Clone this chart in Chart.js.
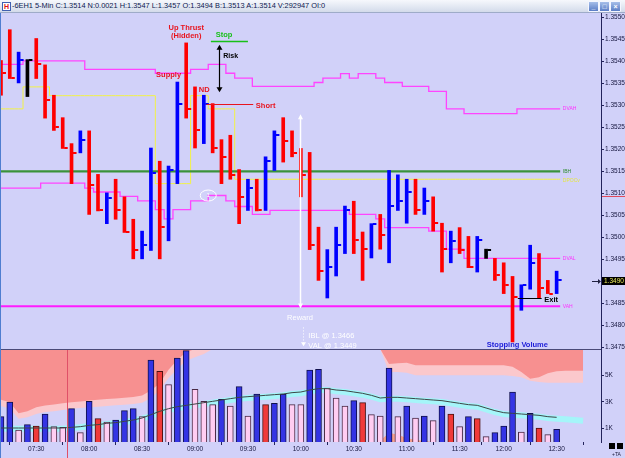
<!DOCTYPE html>
<html>
<head>
<meta charset="utf-8">
<title>6EH1 5-Min</title>
<script src="https://cdn.jsdelivr.net/npm/chart.js@4.4.1/dist/chart.umd.min.js"></script>
<style>
  html, body { margin: 0; padding: 0; background: #d1d1f9; overflow: hidden; }
  #win { position: relative; width: 625px; height: 458px; background: #d1d1f9; }
  #titulo { position: absolute; left: 0; top: 0; width: 625px; height: 13px; box-sizing: border-box;
    background: linear-gradient(#f6f8fc, #d3dbea); border-bottom: 1px solid #9eabc8;
    font: 7.4px "Liberation Sans", Arial, sans-serif; color: #0c1850; line-height: 12px; white-space: nowrap; }
  #titulo .txt { position: absolute; left: 12px; top: 0; }
  #titulo .ico { position: absolute; left: 2px; top: 2px; width: 7px; height: 7px; background: #fff;
    border: 1px solid #4060b0; color: #e01010; font: bold 7px "Liberation Sans", Arial; line-height: 7px; text-align: center; }
  .btn { position: absolute; top: 1px; width: 9px; height: 9px; border: 1px solid #f4f6ff; border-radius: 1px;
    background: linear-gradient(#a6bee9, #5a7dc6); color: #fff; font: bold 7px "Liberation Sans", Arial; line-height: 9px; text-align: center; }
  #cp { position: absolute; left: 0; top: 13px; }
  #cv { position: absolute; left: 0; top: 349px; }
  #borde { position: absolute; left: 0; top: 13px; width: 1px; height: 445px; background: #4f7dd0; }
  .sq { position: absolute; top: 443px; width: 6px; height: 6px; background: #000; }
  #ta { position: absolute; left: 612px; top: 451px; font: 5px "Liberation Sans", Arial; color: #202040; }
</style>
</head>
<body>
<div id="win">
  <div id="titulo">
    <div class="ico">H</div>
    <div class="txt">-6EH1 5-Min C:1.3514 N:0.0021 H:1.3547 L:1.3457 O:1.3494 B:1.3513 A:1.3514 V:292947 OI:0</div>
    <div class="btn" style="left:588px">_</div>
    <div class="btn" style="left:599px">&#9633;</div>
    <div class="btn" style="left:610px">&#215;</div>
  </div>
  <canvas id="cp" width="625" height="336"></canvas>
  <canvas id="cv" width="625" height="109"></canvas>
  <div id="borde"></div>
  <div class="sq" style="left:609px"></div>
  <div class="sq" style="left:617px"></div>
  <div id="ta">+TA</div>
</div>
<script>
// barras de 5 minutos, indice 0 = 07:10 (a barra das 11:45 nao aparece)
const highs = [1.35402,1.35472,1.35421,1.35404,1.35452,1.35392,1.35323,1.35272,1.35213,1.35242,
  1.35242,1.35143,1.35101,1.35132,1.35092,1.35041,1.35014,1.35203,1.35173,1.35162,
  1.35353,1.35442,1.35342,1.35323,1.35304,1.35222,1.35232,1.35154,1.35132,1.35132,
  1.35183,1.35242,1.35272,1.35242,1.35202,1.35193,1.35023,1.34972,1.35023,1.35071,
  1.35082,1.35012,1.35031,1.35052,1.35152,1.35142,1.35132,1.35132,1.35112,1.35092,
  1.35032,1.35014,1.35022,1.35002,1.35002,1.34973,1.34952,1.34942,1.34911,1.34892,
  1.34982,1.34963,1.34902,1.34923];
const lows = [1.35323,1.35361,1.35351,1.35320,1.35361,1.35271,1.35243,1.35202,1.35122,1.35192,
  1.35052,1.35060,1.35031,1.35041,1.35011,1.34951,1.34951,1.34970,1.34951,1.34992,
  1.35122,1.35271,1.35203,1.35213,1.35192,1.35122,1.35132,1.35031,1.35061,1.35060,
  1.35061,1.35152,1.35171,1.35183,1.35092,1.34972,1.34902,1.34862,1.34912,1.34963,
  1.34963,1.34902,1.34953,1.34973,1.34942,1.35061,1.35032,1.35052,1.35052,1.35014,
  1.34921,1.34942,1.34963,1.34931,1.34921,1.34952,1.34902,1.34872,1.34762,1.34834,
  1.34882,1.34862,1.34872,1.34872];
const closes = [1.35373,1.35363,1.35402,1.35402,1.35393,1.35313,1.35251,1.35203,1.35192,1.35222,
  1.35120,1.35061,1.35089,1.35061,1.35012,1.34972,1.34982,1.35146,1.35023,1.35152,
  1.35302,1.35292,1.35243,1.35304,1.35204,1.35183,1.35142,1.35092,1.35112,1.35061,
  1.35173,1.35232,1.35220,1.35192,1.35142,1.34983,1.34923,1.34933,1.34983,1.35061,
  1.34993,1.34973,1.35031,1.35005,1.35071,1.35082,1.35102,1.35061,1.35083,1.35032,
  1.34973,1.34992,1.34972,1.34933,1.34993,1.34972,1.34914,1.34892,1.34864,1.34892,
  1.34942,1.34885,1.34872,1.34902];
// u = sobe (azul), d = desce (vermelho), n = neutro (preto)
const dirs = ('ddundddddu' + 'dduddduudu' + 'udduddddud' + 'uuddddduuu' +
  'dduduuudud' + 'duddundddu' + 'uddu').split('');

// linhas de perfil (valor por barra)
const dvah = [1.35393,1.35393,1.35393,1.35401,1.35401,1.35401,1.35401,1.35401,1.35401,1.35401,
  1.35382,1.35382,1.35382,1.35382,1.35382,1.35382,1.35382,1.35382,1.35373,1.35373,
  1.35373,1.35373,1.35382,1.35382,1.35393,1.35393,1.35373,1.35362,1.35362,1.35343,
  1.35343,1.35343,1.35343,1.35343,1.35343,1.35343,1.35352,1.35362,1.35362,1.35372,
  1.35362,1.35372,1.35372,1.35362,1.35352,1.35352,1.35343,1.35343,1.35343,1.35332,
  1.35332,1.35292,1.35292,1.35281,1.35281,1.35281,1.35281,1.35281,1.35281,1.35292,
  1.35292,1.35292,1.35292,1.35292];
const dval = [1.35112,1.35112,1.35112,1.35112,1.35112,1.35123,1.35123,1.35123,1.35123,1.35123,
  1.35112,1.35103,1.35103,1.35103,1.35093,1.35093,1.35083,1.35083,1.35063,1.35042,
  1.35063,1.35063,1.35083,1.35083,1.35095,1.35095,1.35083,1.35070,1.35070,1.35052,
  1.35052,1.35061,1.35061,1.35061,1.35061,1.35061,1.35061,1.35061,1.35061,1.35061,
  1.35052,1.35052,1.35052,1.35042,1.35022,1.35022,1.35022,1.35022,1.35022,1.35014,
  1.35014,1.34973,1.34973,1.34952,1.34952,1.34952,1.34952,1.34952,1.34952,1.34952,
  1.34952,1.34952,1.34952,1.34952];
const dpoc = [1.35292,1.35292,1.35292,1.35342,1.35342,1.35342,1.35322,1.35322,1.35322,1.35322,
  1.35322,1.35322,1.35322,1.35322,1.35322,1.35322,1.35322,1.35322,1.35122,1.35122,
  1.35122,1.35122,1.35322,1.35322,1.35292,1.35292,1.35292,1.35132,1.35132,1.35132,
  1.35132,1.35132,1.35132,1.35132,1.35132,1.35132,1.35132,1.35132,1.35132,1.35132,
  1.35132,1.35132,1.35132,1.35132,1.35132,1.35132,1.35132,1.35132,1.35132,1.35132,
  1.35132,1.35132,1.35132,1.35132,1.35132,1.35132,1.35132,1.35132,1.35132,1.35132,
  1.35132,1.35132,1.35132,1.35132];
const ibh = 1.3515;
const vah = 1.34843;
const lastPrice = 1.3490;
const markedPrice = 1.35095;

// volume
const vols = [1900,3000,900,1300,1200,2100,1150,1100,2500,700,
  3050,1750,1500,1650,2350,2500,1900,6150,5300,4300,
  6300,6850,3950,3050,2800,3200,2700,4150,1950,3600,
  2800,2900,3600,2800,2800,5400,5450,4050,3300,2700,
  3100,2950,2050,1950,5550,1900,2700,1800,1950,1600,
  2700,2100,1150,1900,1750,400,700,1200,3750,750,
  2150,1050,550,950];
// b = azul, r = vermelho, p = rosa
const volKinds = ('bbpbrbppbp' + 'brpbbbpbrp' + 'bbpppbpbpb' + 'rbbppbbppp' +
  'brppbpbpbp' + 'brpbrpbbbp' + 'brpb').split('');
const volAvg = [1050,1050,1050,1050,1050,1050,1050,1050,1100,1150,
  1250,1300,1400,1450,1550,1650,1800,2050,2300,2500,
  2650,2750,2850,2950,3050,3150,3250,3350,3400,3450,
  3500,3550,3600,3700,3750,3900,4000,4000,3900,3850,
  3750,3650,3500,3300,3350,3350,3300,3250,3200,3150,
  3100,3000,2900,2800,2750,2550,2350,2200,2150,2100,
  2050,2000,1900,1850];
const volBand = [1000,1000,1000,1000,1000,1000,1000,1000,1050,1100,
  1200,1250,1350,1400,1500,1600,1750,1950,2200,2400,
  2550,2650,2750,2850,2950,3050,3150,3250,3300,3350,
  3400,3450,3500,3600,3650,3800,3900,3900,3800,3750,
  3650,3550,3400,3200,3250,3250,3200,3150,3100,3050,
  3000,2900,2800,2700,2650,2450,2250,2100,2050,2000,
  1950,1900,1800,1750,1700,1650,1600];
// areas de cima (a partir do indice 0 e do indice 43)
const bidFillA = [3170,2990,2160,2310,2610,2740,2810,2910,2990,3040,
  3110,3170,3220,3270,3320,3370,3490,3860,4410,5420,
  6170,6740,6975];
const bidHaloA = [2700,2500,1750,1850,2100,2250,2300,2400,2500,2550,
  2600,2650,2700,2750,2800,2850,2950,3300,3900,4800,
  5500,6100,6350,6600,6975];
const bidFillB = [6975,5850,5900,5950,5750,5750,5750,5750,5750,5750,
  5750,5750,5750,5750,5750,5650,5250,4750,4850,5150,
  5300,5350,5350,5350];
const bidHaloB = [6975,5250,5250,5200,5000,5000,5000,5000,5000,5000,
  5000,5000,5000,5000,5000,4950,4850,4600,4500,4450,
  4450,4450,4450,4450];
const askBumps = [100,700,550,300,150,80,0];
const startB = 43;
const sessionMark = 7.45;

// eixos
const tickIdx = [4,10,16,22,28,34,40,46,52,57,63];
const tickLabels = ['07:30','08:00','08:30','09:00','09:30','10:00','10:30','11:00','11:30','12:00','12:30'];
const priceTicks = [1.3550,1.3545,1.3540,1.3535,1.3530,1.3525,1.3520,1.3515,1.3510,1.3505,1.3500,1.3495,1.3490,1.3485,1.3480,1.3475];
const volTicks = [1000,3000,5000];
const volTickLabels = ['1K','3K','5K'];

const xMin = -0.11, xMax = 68.03, lineEnd = 63.4;
const priceMin = 1.34746, priceMax = 1.35510;
const volMax = 6975;

const FONT = '"Liberation Sans", Arial, sans-serif';
const AXIS = '#23235a';
const TXT = '#16163f';
const dirColor = { u: '#0000ff', d: '#ff0000', n: '#000000' };
const volColor = { b: '#3434e4', r: '#f03a3a', p: '#ffcdf2' };
const volEdge = { b: '#10104c', r: '#4c1010', p: '#4a2a46' };

const pts = (arr, start = 0) => arr.map((v, i) => ({ x: i + start, y: v }));
function stepPts(arr) {
  const p = pts(arr);
  p.unshift({ x: xMin, y: arr[0] });
  p.push({ x: lineEnd, y: arr[arr.length - 1] });
  return p;
}
const flat = v => [{ x: xMin, y: v }, { x: lineEnd, y: v }];

function arrowHead(ctx, x, y, dir, w, h) {
  ctx.beginPath();
  ctx.moveTo(x, y);
  ctx.lineTo(x - w / 2, y - dir * h);
  ctx.lineTo(x + w / 2, y - dir * h);
  ctx.closePath();
  ctx.fill();
}

function label(ctx, s, x, y, color, font, align) {
  ctx.fillStyle = color;
  ctx.font = font;
  ctx.textAlign = align || 'center';
  ctx.textBaseline = 'middle';
  ctx.fillText(s, x, y);
}

const priceMarks = {
  id: 'priceMarks',
  afterDatasetsDraw(chart) {
    const { ctx, scales: { x, y } } = chart;
    const X = v => x.getPixelForValue(v), Y = v => y.getPixelForValue(v);
    ctx.save();
    // tique de fechamento
    closes.forEach((c, i) => {
      ctx.fillStyle = dirColor[dirs[i]];
      ctx.fillRect(X(i) + 1.5, Math.round(Y(c)) - 1, 3.5, 2);
    });

    // nomes das linhas
    const sf = '5px ' + FONT;
    const lx = X(63.7);
    label(ctx, 'DVAH', lx, Y(dvah[dvah.length - 1]), '#ff30ff', sf, 'left');
    label(ctx, 'IBH', lx, Y(ibh), '#2a8a2a', sf, 'left');
    label(ctx, 'DPOCv', lx, Y(dpoc[dpoc.length - 1]) + 1, '#e6e640', sf, 'left');
    label(ctx, 'DVAL', lx, Y(dval[dval.length - 1]), '#ff30ff', sf, 'left');
    label(ctx, 'VAH', lx, Y(vah), '#ff30ff', sf, 'left');

    const red = '#e8141e';
    const bold = 'bold 7.5px ' + FONT;
    label(ctx, 'Up Thrust', X(21.0), Y(1.35477), red, bold);
    label(ctx, '(Hidden)', X(21.0), Y(1.35458), red, bold);
    label(ctx, 'Supply', X(19.0), Y(1.35370), red, bold);
    label(ctx, 'ND', X(23.05), Y(1.35336), red, bold);

    // stop / risco
    ctx.strokeStyle = '#18c018'; ctx.lineWidth = 1.5;
    ctx.beginPath(); ctx.moveTo(X(23.8), Y(1.35445)); ctx.lineTo(X(28.0), Y(1.35445)); ctx.stroke();
    label(ctx, 'Stop', X(25.3), Y(1.35459), '#18c018', bold);
    const rx = Math.round(X(24.7)) + 0.5;
    ctx.strokeStyle = '#000'; ctx.fillStyle = '#000'; ctx.lineWidth = 1.2;
    ctx.beginPath(); ctx.moveTo(rx, Y(1.35438) + 3); ctx.lineTo(rx, Y(1.35330) - 3); ctx.stroke();
    arrowHead(ctx, rx, Y(1.35438), -1, 6, 5);
    arrowHead(ctx, rx, Y(1.35330), 1, 6, 5);
    label(ctx, 'Risk', X(25.2), Y(1.35412), '#000', 'bold 7px ' + FONT, 'left');

    // short
    ctx.strokeStyle = red; ctx.lineWidth = 1;
    ctx.beginPath(); ctx.moveTo(X(23.3), Math.round(Y(1.35302)) + 0.5); ctx.lineTo(X(28.6), Math.round(Y(1.35302)) + 0.5); ctx.stroke();
    label(ctx, 'Short', X(28.9), Y(1.35298), red, bold, 'left');

    // circulo 1
    ctx.strokeStyle = '#ffffff'; ctx.lineWidth = 1;
    ctx.beginPath(); ctx.ellipse(X(23.5), Y(1.35095), 8, 5.5, 0, 0, Math.PI * 2); ctx.stroke();
    label(ctx, '1', X(23.5), Y(1.35095), '#ffffff', '6px ' + FONT);

    // reward
    const wx = Math.round(X(33.9)) + 0.5;
    ctx.strokeStyle = '#ffffff'; ctx.fillStyle = '#ffffff'; ctx.lineWidth = 1.5;
    ctx.beginPath(); ctx.moveTo(wx, Y(1.35280) + 3); ctx.lineTo(wx, Y(1.34838) - 3); ctx.stroke();
    arrowHead(ctx, wx, Y(1.35280), -1, 5, 5);
    arrowHead(ctx, wx, Y(1.34838), 1, 5, 5);
    const wf = '7.5px ' + FONT;
    label(ctx, 'Reward', X(33.9), Y(1.34817), '#ffffff', wf);
    const dx = Math.round(X(34.2)) + 0.5;
    ctx.lineWidth = 1; ctx.setLineDash([1, 2]);
    ctx.beginPath(); ctx.moveTo(dx, Y(1.34795)); ctx.lineTo(dx, Y(1.34752) - 3); ctx.stroke();
    ctx.setLineDash([]);
    arrowHead(ctx, dx, Y(1.34752), 1, 5, 4);
    label(ctx, 'IBL @ 1.3466', X(34.85), Y(1.34775), '#ffffff', wf, 'left');
    label(ctx, 'VAL @ 1.3449', X(34.85), Y(1.34753), '#ffffff', wf, 'left');

    // saida
    label(ctx, 'Stopping Volume', X(58.55), Y(1.34755), '#1c1cd8', bold);
    ctx.strokeStyle = '#000'; ctx.lineWidth = 1;
    ctx.beginPath(); ctx.moveTo(X(58.6), Math.round(Y(1.34862)) + 0.5); ctx.lineTo(X(61.3), Math.round(Y(1.34862)) + 0.5); ctx.stroke();
    label(ctx, 'Exit', X(61.6), Y(1.34858), '#000', bold, 'left');
    ctx.restore();
  },
  afterDraw(chart) {
    const { ctx, chartArea: ca, scales: { y } } = chart;
    ctx.save();
    // marca no eixo
    const my = Math.round(y.getPixelForValue(markedPrice)) + 0.5;
    ctx.strokeStyle = '#e04a5a'; ctx.lineWidth = 1;
    ctx.beginPath(); ctx.moveTo(ca.right + 1, my); ctx.lineTo(chart.width, my); ctx.stroke();
    // preco atual
    const py = Math.round(y.getPixelForValue(lastPrice));
    ctx.fillStyle = '#000';
    ctx.fillRect(ca.right + 1, py - 4, 24, 8);
    label(ctx, lastPrice.toFixed(4), ca.right + 3, py, '#eaea5a', '6.5px ' + FONT, 'left');
    ctx.strokeStyle = '#202040'; ctx.fillStyle = '#202040';
    ctx.beginPath(); ctx.moveTo(ca.right - 9, py + 0.5); ctx.lineTo(ca.right - 3, py + 0.5); ctx.stroke();
    ctx.beginPath(); ctx.moveTo(ca.right, py + 0.5); ctx.lineTo(ca.right - 3, py - 2); ctx.lineTo(ca.right - 3, py + 3); ctx.closePath(); ctx.fill();
    ctx.restore();
  }
};

const volMarks = {
  id: 'volMarks',
  afterDatasetsDraw(chart) {
    const { ctx, chartArea: ca, scales: { x } } = chart;
    ctx.save();
    const sx = Math.round(x.getPixelForValue(sessionMark)) + 0.5;
    ctx.strokeStyle = '#e05068'; ctx.lineWidth = 1;
    ctx.beginPath(); ctx.moveTo(sx, ca.top); ctx.lineTo(sx, chart.height); ctx.stroke();
    ctx.fillStyle = '#4a4a78';
    ctx.fillRect(0, 0, ca.right, 1);
    ctx.restore();
  }
};

const lineBase = { type: 'line', pointRadius: 0, tension: 0, fill: false };
const yAxisCommon = {
  position: 'right',
  grid: { drawOnChartArea: false, tickLength: 3, color: AXIS },
  border: { color: AXIS },
  ticks: { padding: 1, font: { size: 6.5, family: FONT }, color: TXT, autoSkip: false }
};

new Chart(document.getElementById('cp'), {
  type: 'bar',
  data: {
    datasets: [
      { ...lineBase, data: stepPts(dpoc), stepped: 'middle', borderColor: '#f2f246', borderWidth: 1, order: 10 },
      { ...lineBase, data: stepPts(dval), stepped: 'middle', borderColor: '#ff44ff', borderWidth: 1.3, order: 9 },
      { ...lineBase, data: stepPts(dvah), stepped: 'middle', borderColor: '#ff44ff', borderWidth: 1.3, order: 8 },
      { ...lineBase, data: flat(ibh), borderColor: '#3a923a', borderWidth: 2.2, order: 7 },
      { ...lineBase, data: flat(vah), borderColor: '#ff1cff', borderWidth: 2, order: 6 },
      {
        type: 'bar',
        data: highs.map((h, i) => ({ x: i, y: [lows[i], h] })),
        backgroundColor: dirs.map(d => dirColor[d]),
        barThickness: 3,
        borderWidth: 0,
        order: 1
      }
    ]
  },
  options: {
    responsive: false,
    animation: false,
    events: [],
    layout: { padding: 0, autoPadding: false },
    plugins: { legend: { display: false }, tooltip: { enabled: false } },
    scales: {
      x: { type: 'linear', min: xMin, max: xMax, offset: false, display: false },
      y: {
        ...yAxisCommon,
        min: priceMin,
        max: priceMax,
        afterBuildTicks: s => { s.ticks = priceTicks.map(v => ({ value: v })); },
        afterFit: s => { s.width = 24; s.paddingTop = 0; s.paddingBottom = 0; },
        ticks: { ...yAxisCommon.ticks, callback: v => Number(v).toFixed(4) }
      }
    }
  },
  plugins: [priceMarks]
});

new Chart(document.getElementById('cv'), {
  type: 'bar',
  data: {
    datasets: [
      { ...lineBase, data: pts(bidHaloA), fill: 'end', backgroundColor: '#fbc8cc', borderWidth: 0, order: 20 },
      { ...lineBase, data: pts(bidFillA), fill: 'end', backgroundColor: '#f79090', borderWidth: 0, order: 19 },
      { ...lineBase, data: pts(bidHaloB, startB), fill: 'end', backgroundColor: '#fbc8cc', borderWidth: 0, order: 18 },
      { ...lineBase, data: pts(bidFillB, startB), fill: 'end', backgroundColor: '#f79090', borderWidth: 0, order: 17 },
      { ...lineBase, data: pts(askBumps, startB), fill: 'origin', backgroundColor: '#f5a090', borderWidth: 0, order: 16 },
      { ...lineBase, data: pts(volBand), borderColor: 'rgba(160,248,248,0.9)', borderWidth: 6, order: 15 },
      {
        type: 'bar',
        data: pts(vols),
        backgroundColor: volKinds.map(k => volColor[k]),
        borderColor: volKinds.map(k => volEdge[k]),
        borderWidth: 1,
        barThickness: 6,
        order: 2
      },
      { ...lineBase, data: pts(volAvg), borderColor: '#3c4646', borderWidth: 1, order: 1 }
    ]
  },
  options: {
    responsive: false,
    animation: false,
    events: [],
    layout: { padding: 0, autoPadding: false },
    plugins: { legend: { display: false }, tooltip: { enabled: false } },
    scales: {
      x: {
        type: 'linear', min: xMin, max: xMax, offset: false,
        afterBuildTicks: s => { s.ticks = tickIdx.map(v => ({ value: v })); },
        afterFit: s => { s.height = 16; s.paddingLeft = 0; s.paddingRight = 0; },
        grid: { drawOnChartArea: false, tickLength: 3, color: AXIS },
        border: { display: false },
        ticks: { autoSkip: false, maxRotation: 0, padding: 0, font: { size: 6.5, family: FONT }, color: TXT,
          callback: (v, i) => tickLabels[i] }
      },
      y: {
        ...yAxisCommon,
        min: 0,
        max: volMax,
        afterBuildTicks: s => { s.ticks = volTicks.map(v => ({ value: v })); },
        afterFit: s => { s.width = 24; s.paddingTop = 0; s.paddingBottom = 0; },
        ticks: { ...yAxisCommon.ticks, callback: (v, i) => volTickLabels[i] }
      }
    }
  },
  plugins: [volMarks]
});
</script>
</body>
</html>
